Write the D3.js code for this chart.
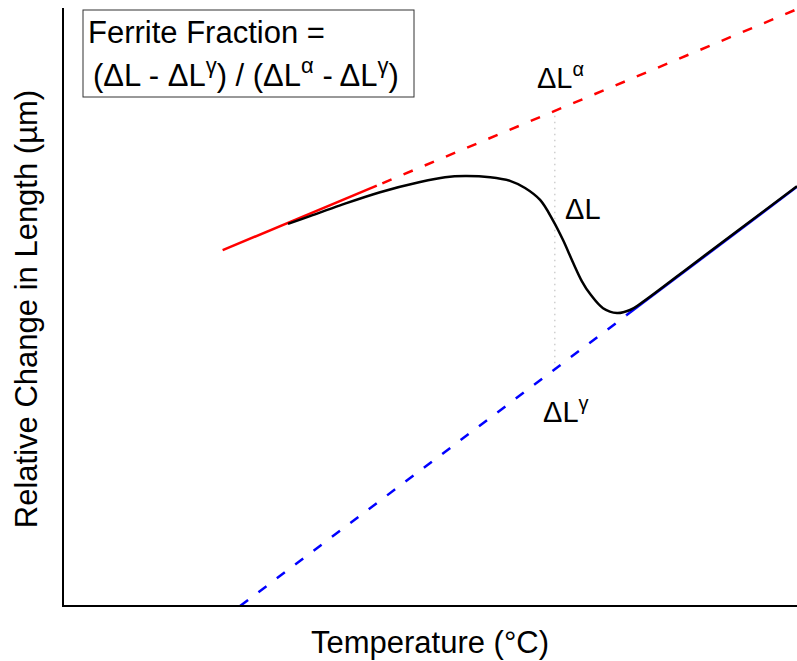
<!DOCTYPE html>
<html>
<head>
<meta charset="utf-8">
<script src="https://cdn.jsdelivr.net/npm/d3@7"></script>
<style>
  body { margin: 0; background: white; }
  text { font-family: "Liberation Sans", Arial, sans-serif; fill: black; }
</style>
</head>
<body>
<div id="chart"></div>
<script>
// temperature (°C), relative length change (arbitrary units)
const alphaSolid = [[587, 59.5], [671, 70.3]];
const alphaDashed = [[671, 70.3], [900, 99.8]];
const gammaDashed = [[596.5, 0], [807, 48.6]];
const gammaSolid = [[807, 48.6], [900, 70.1]];
const dilatometry = [
    [622.6, 63.9], [634.6, 65.2], [651, 67.0], [672.8, 69.2], [694.6, 70.9],
    [708.2, 71.7], [719.1, 71.9], [732.8, 71.7], [743.6, 71.1], [751.8, 69.9],
    [760, 67.9], [767, 64.5], [772.5, 61.2], [778, 57.4], [782.8, 54.3],
    [787.2, 52.2], [794.3, 49.8], [801.9, 49.0], [809, 49.5], [814.4, 50.5],
    [847, 58.0], [900, 70.2]
];
const markerT = 768;
const markerRange = [39.6, 82.8];
const labels = [
    {T: 758.3, L: 86.6, base: "ΔL", sup: "α"},
    {T: 773.6, L: 64.7, base: "ΔL", sup: ""},
    {T: 761.6, L: 30.8, base: "ΔL", sup: "γ"}
];
const xDomain = [500, 900];
const yDomain = [0, 100];

const width = 797, height = 661;
const margin = {top: 8, right: 0, bottom: 55, left: 63};

const svg = d3.select("#chart").append("svg")
    .attr("width", width)
    .attr("height", height);

let x = d3.scaleLinear().domain(xDomain).range([margin.left, width - margin.right]);
let y = d3.scaleLinear().domain(yDomain).range([height - margin.bottom, margin.top]);

let line = d3.line().x(d => x(d[0])).y(d => y(d[1]));
let curve = d3.line().x(d => x(d[0])).y(d => y(d[1])).curve(d3.curveCatmullRom.alpha(0.5));

// gray dotted marker
svg.append("line")
    .attr("x1", x(markerT)).attr("x2", x(markerT))
    .attr("y1", y(markerRange[0])).attr("y2", y(markerRange[1]))
    .style("stroke", "#cfcfcf")
    .style("stroke-width", 1.5)
    .style("stroke-dasharray", "1.5,4.5");

// ferrite (alpha) line
svg.append("path").datum(alphaDashed)
    .attr("d", line)
    .style("fill", "none").style("stroke", "#ff0000")
    .style("stroke-width", 2.5).style("stroke-dasharray", "10,13")
    .style("stroke-dashoffset", -6);
svg.append("path").datum(alphaSolid)
    .attr("d", line)
    .style("fill", "none").style("stroke", "#ff0000").style("stroke-width", 2.5);

// austenite (gamma) line
svg.append("path").datum(gammaDashed)
    .attr("d", line)
    .style("fill", "none").style("stroke", "#0000ff")
    .style("stroke-width", 2.5).style("stroke-dasharray", "10,13");
svg.append("path").datum(gammaSolid)
    .attr("d", line)
    .style("fill", "none").style("stroke", "#0000ff").style("stroke-width", 2.5);

// measured curve
svg.append("path").datum(dilatometry)
    .attr("d", curve)
    .style("fill", "none").style("stroke", "black").style("stroke-width", 2.5);

// axes (no ticks)
svg.append("line")
    .attr("x1", margin.left).attr("x2", margin.left)
    .attr("y1", margin.top).attr("y2", height - margin.bottom + 1)
    .style("stroke", "black").style("stroke-width", 2);
svg.append("line")
    .attr("x1", margin.left - 1).attr("x2", width)
    .attr("y1", height - margin.bottom).attr("y2", height - margin.bottom)
    .style("stroke", "black").style("stroke-width", 2);

svg.append("text")
    .attr("x", 430)
    .attr("y", 653)
    .attr("text-anchor", "middle")
    .style("font-size", "31px")
    .text("Temperature (°C)");

svg.append("text")
    .attr("transform", "translate(37,309) rotate(-90)")
    .attr("text-anchor", "middle")
    .style("font-size", "31px")
    .text("Relative Change in Length (µm)");

// delta labels
labels.forEach(function(d){
    let t = svg.append("text")
        .attr("x", x(d.T)).attr("y", y(d.L))
        .style("font-size", "29px");
    t.append("tspan").text(d.base);
    if(d.sup){
        t.append("tspan").attr("dy", -12).style("font-size", "20px").text(d.sup);
    }
});

// formula box
svg.append("rect")
    .attr("x", 83).attr("y", 10)
    .attr("width", 331).attr("height", 87)
    .style("fill", "white").style("stroke", "#333").style("stroke-width", 1);

svg.append("text")
    .attr("x", 88).attr("y", 43)
    .style("font-size", "31px")
    .text("Ferrite Fraction =");

let f = svg.append("text")
    .attr("x", 93).attr("y", 86)
    .style("font-size", "31px");
let parts = [["(ΔL - ΔL", 0], ["γ", 1], [") / (ΔL", 0], ["α", 1], [" - ΔL", 0], ["γ", 1], [")", 0]];
let up = false;
parts.forEach(function(p){
    let ts = f.append("tspan").text(p[0]);
    if(p[1] == 1){
        ts.attr("dy", -13).style("font-size", "22px");
        up = true;
    } else if(up){
        ts.attr("dy", 13);
        up = false;
    }
});
</script>
</body>
</html>
